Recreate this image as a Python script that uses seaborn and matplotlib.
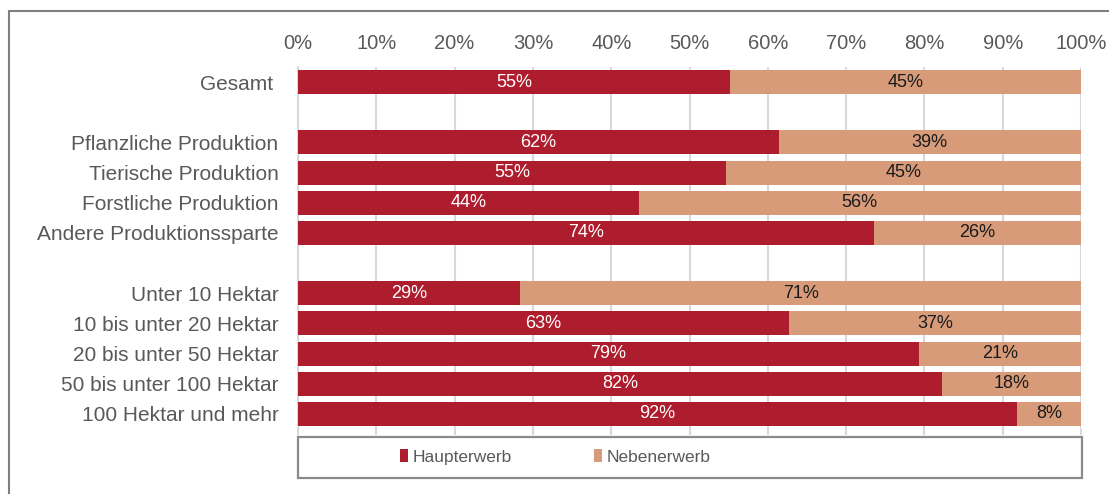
import matplotlib
matplotlib.use("Agg")
import matplotlib.pyplot as plt
import seaborn as sns
import pandas as pd
from matplotlib.patches import Rectangle, Patch
from matplotlib.lines import Line2D

categories = ["Gesamt ", "Pflanzliche Produktion", "Tierische Produktion",
              "Forstliche Produktion", "Andere Produktionssparte",
              "Unter 10 Hektar", "10 bis unter 20 Hektar", "20 bis unter 50 Hektar",
              "50 bis unter 100 Hektar", "100 Hektar und mehr"]
haupterwerb = [55.2, 61.4, 54.7, 43.5, 73.5, 28.4, 62.7, 79.3, 82.2, 91.8]
nebenerwerb = [44.8, 38.6, 45.3, 56.5, 26.5, 71.6, 37.3, 20.7, 17.8, 8.2]
haupt_labels = ["55%", "62%", "55%", "44%", "74%", "29%", "63%", "79%", "82%", "92%"]
neben_labels = ["45%", "39%", "45%", "56%", "26%", "71%", "37%", "21%", "18%", "8%"]
order = [categories[0], " ", *categories[1:5], "  ", *categories[5:]]
xticks = [0, 10, 20, 30, 40, 50, 60, 70, 80, 90, 100]
xtick_labels = [f"{t}%" for t in xticks]

RED = "#AE1D2D"
TAN = "#D89B7A"
GREY_TXT = "#595959"

sns.set_theme(style="white")
plt.rcParams["font.family"] = ["Liberation Sans", "DejaVu Sans"]
FS_DATA = 13
FS_X = 14.5
FS_Y = 15
FS_LEG = 12.5

df = pd.DataFrame({"cat": categories, "haupt": haupterwerb,
                   "total": [h + n for h, n in zip(haupterwerb, nebenerwerb)]})

fig = plt.figure(figsize=(11.09, 4.94), dpi=100)
ax = fig.add_axes([298/1109, 1-429/494, (1081-298)/1109, (429-67)/494])

sns.barplot(data=df, y="cat", x="total", order=order, color=TAN, orient="h",
            width=0.8, linewidth=0, saturation=1, ax=ax, zorder=3)
sns.barplot(data=df, y="cat", x="haupt", order=order, color=RED, orient="h",
            width=0.8, linewidth=0, saturation=1, ax=ax, zorder=3)

ax.set_xlim(0, 100)
ax.set_xticks(xticks)
ax.set_xticklabels(xtick_labels)
ax.set_xlabel("")
ax.set_ylabel("")
ax.grid(axis="x", color="#d9d9d9", linewidth=1.5, zorder=0)
ax.grid(axis="y", visible=False)
for s in ["top", "right", "bottom"]:
    ax.spines[s].set_visible(False)
ax.spines["left"].set_color("#d9d9d9")
ax.spines["left"].set_linewidth(1.5)
ax.tick_params(axis="x", top=False, labeltop=True, bottom=True, labelbottom=False,
               length=4, width=1.5, color="#d9d9d9", labelsize=FS_X,
               labelcolor=GREY_TXT, pad=6)
ax.tick_params(axis="y", length=0, labelsize=FS_Y, labelcolor=GREY_TXT, pad=14)

pos = {c: i for i, c in enumerate(order)}
for c, h, n, hl, nl in zip(categories, haupterwerb, nebenerwerb, haupt_labels, neben_labels):
    y = pos[c]
    ax.text(h / 2, y, hl, ha="center", va="center", color="white", fontsize=FS_DATA, zorder=5)
    ax.text(h + n / 2, y, nl, ha="center", va="center", color="#1a1a1a", fontsize=FS_DATA, zorder=5)

# legend frame
fig.patches.append(Rectangle((298/1109, 1-478/494), (1082-298)/1109, 41/494,
                             transform=fig.transFigure, fill=False,
                             edgecolor="#8a8a8a", linewidth=1.6))
handles = [Patch(facecolor=RED, edgecolor="none"), Patch(facecolor=TAN, edgecolor="none")]
fig.legend(handles, ["Haupterwerb", "Nebenerwerb"], loc="center left",
           bbox_to_anchor=(400/1109, 1-457/494), ncol=2, frameon=False,
           fontsize=FS_LEG, labelcolor=GREY_TXT, handlelength=0.46, handleheight=0.7,
           handletextpad=0.25, columnspacing=4.75, borderpad=0, borderaxespad=0)

# outer chart border
fig.lines.append(Line2D([9/1109, 1], [1-11/494, 1-11/494], transform=fig.transFigure,
                        color="#808080", linewidth=1.5))
fig.lines.append(Line2D([9/1109, 9/1109], [0, 1-11/494], transform=fig.transFigure,
                        color="#808080", linewidth=1.5))

fig.savefig("out.png", dpi=100)
